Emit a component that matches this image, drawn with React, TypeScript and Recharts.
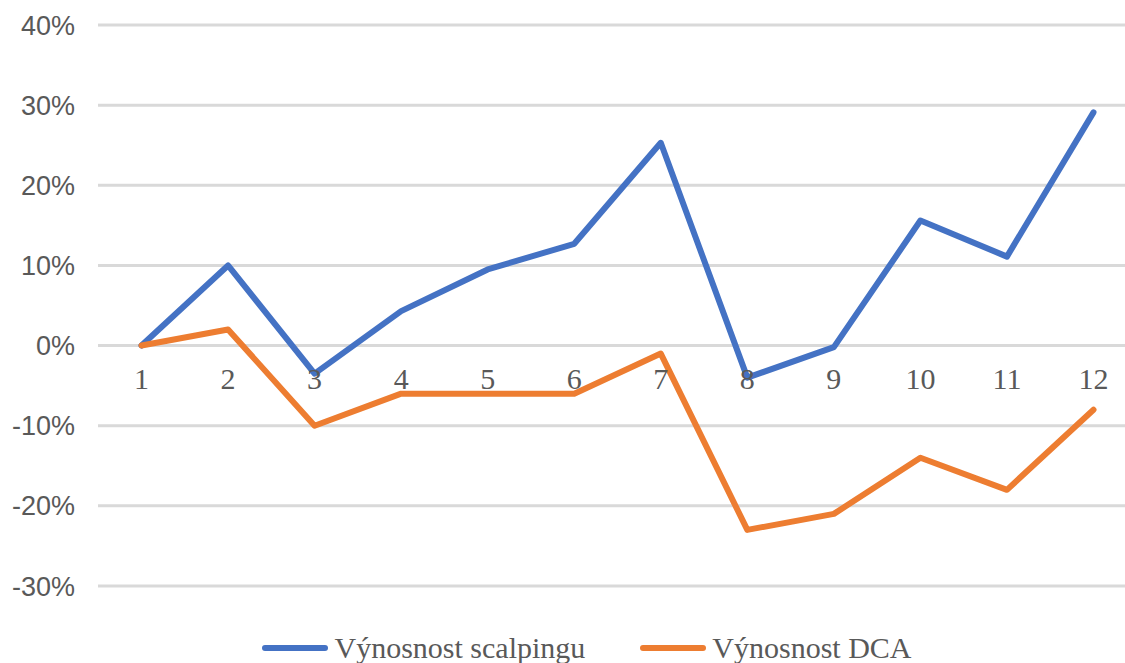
import React from 'react';
import { LineChart, Line, XAxis, YAxis, CartesianGrid, Legend } from 'recharts';

const periods = ['1', '2', '3', '4', '5', '6', '7', '8', '9', '10', '11', '12'];
const scalpingReturns = [0, 10, -3.5, 4.3, 9.5, 12.7, 25.3, -4, -0.2, 15.6, 11.1, 29.1];
const dcaReturns = [0, 2, -10, -6, -6, -6, -1, -23, -21, -14, -18, -8];
const yTicks = [-30, -20, -10, 0, 10, 20, 30, 40];
const seriesOrder = ['scalping', 'dca'];

const data = periods.map((p, i) => ({
  period: p,
  scalping: scalpingReturns[i],
  dca: dcaReturns[i],
}));

const serif = '"Liberation Serif", "Times New Roman", serif';
const sans = '"Liberation Sans", Arial, sans-serif';

// category labels sit just under the 0% line, like in the Excel original
const PeriodTick = (props: any) => {
  const { x, y, payload } = props;
  return (
    <text x={x} y={y} dy={-197} textAnchor="middle" fill="#595959" fontSize={30} fontFamily={serif}>
      {payload.value}
    </text>
  );
};

const renderLegend = (props: any) => {
  const items = [...(props.payload || [])].sort(
    (a: any, b: any) => seriesOrder.indexOf(a.dataKey) - seriesOrder.indexOf(b.dataKey)
  );
  return (
    <div style={{ height: 47, boxSizing: 'border-box', paddingTop: 17, display: 'flex', justifyContent: 'center', paddingLeft: 92 }}>
      {items.map((entry: any) => (
        <div key={entry.value} style={{ display: 'flex', alignItems: 'center', height: 30, marginRight: 55 }}>
          <span style={{ display: 'inline-block', width: 66, height: 6, borderRadius: 3, background: entry.color, marginRight: 6 }} />
          <span style={{ fontFamily: serif, fontSize: 30, color: '#595959', lineHeight: '30px' }}>{entry.value}</span>
        </div>
      ))}
    </div>
  );
};

export default function App() {
  return (
    <div style={{ position: 'absolute', top: 0, left: 0, width: 1125, height: 663, overflow: 'hidden', background: '#fff' }}>
      <LineChart width={1137} height={663} data={data} margin={{ top: 25, right: 0, bottom: 0, left: 0 }}>
        <CartesianGrid vertical={false} stroke="#d9d9d9" strokeWidth={3} />
        <XAxis
          dataKey="period"
          axisLine={false}
          tickLine={false}
          tickSize={0}
          tickMargin={0}
          height={30}
          interval={0}
          padding={{ left: 43.5, right: 43.5 }}
          tick={<PeriodTick />}
        />
        <YAxis
          width={98}
          domain={[-30, 40]}
          ticks={yTicks}
          axisLine={false}
          tickLine={false}
          tickSize={0}
          tickMargin={23}
          tickFormatter={(v: number) => `${v}%`}
          tick={{ fill: '#595959', fontSize: 27, fontFamily: sans }}
        />
        <Legend verticalAlign="bottom" content={renderLegend} />
        <Line
          type="linear"
          dataKey="scalping"
          name="Výnosnost scalpingu"
          stroke="#4472C4"
          strokeWidth={6}
          strokeLinejoin="round"
          strokeLinecap="round"
          dot={false}
          isAnimationActive={false}
        />
        <Line
          type="linear"
          dataKey="dca"
          name="Výnosnost DCA"
          stroke="#ED7D31"
          strokeWidth={6}
          strokeLinejoin="round"
          strokeLinecap="round"
          dot={false}
          isAnimationActive={false}
        />
      </LineChart>
    </div>
  );
}
